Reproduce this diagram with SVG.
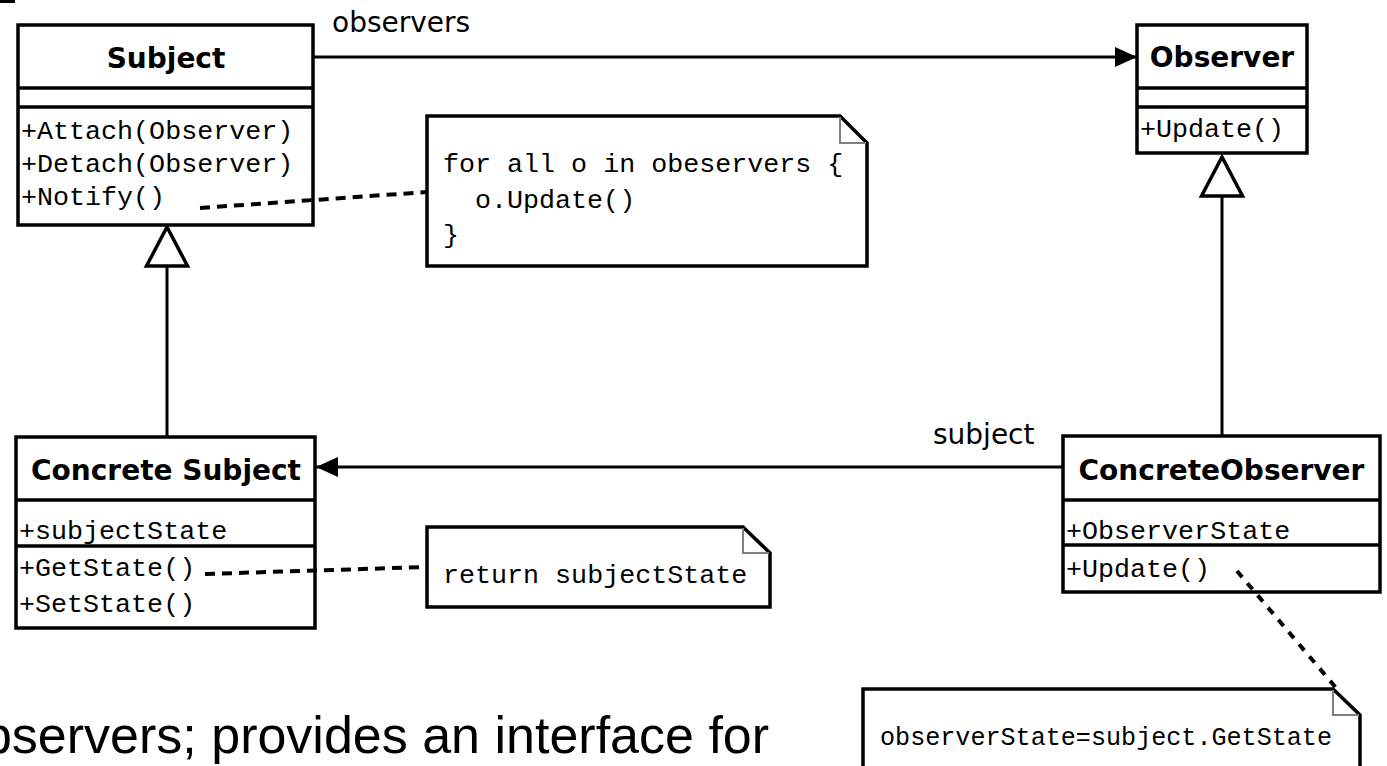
<svg xmlns="http://www.w3.org/2000/svg" width="1387" height="766" viewBox="0 0 1387 766">
<style>
.box{fill:#fff;stroke:#000;stroke-width:3.5}
.sep{stroke:#000;stroke-width:3.5}
.title{font-family:"DejaVu Sans",sans-serif;font-weight:bold;font-size:28px;text-anchor:middle;fill:#000}
.mono{font-family:"Liberation Mono",monospace;font-size:26.7px;fill:#000}
.lbl{font-family:"DejaVu Sans",sans-serif;font-size:28px;fill:#000}
.note{fill:#fff;stroke:#000;stroke-width:3.5}
.fold{fill:none;stroke:#808080;stroke-width:2}
.conn{stroke:#000;stroke-width:3;fill:none}
.dash{stroke:#000;stroke-width:4;fill:none;stroke-dasharray:10 7}
.body{font-family:"Liberation Sans",Arial,sans-serif;font-size:52px;fill:#000}
</style>
<defs>
<marker id="filled" markerUnits="userSpaceOnUse" markerWidth="24" markerHeight="22" refX="22" refY="10" orient="auto" overflow="visible">
<path d="M0,0 L22,10 L0,20 Z" fill="#000"/>
</marker>
<marker id="hollow" markerUnits="userSpaceOnUse" markerWidth="42" markerHeight="42" refX="39" refY="20.5" orient="auto" overflow="visible">
<path d="M0,0 L39,20.5 L0,41 Z" fill="#fff" stroke="#000" stroke-width="3.5"/>
</marker>
</defs>
<rect x="0" y="0" width="15" height="3" fill="#000"/>
<g id="subject">
<rect class="box" x="18" y="25" width="295" height="200"/>
<line class="sep" x1="18" y1="88" x2="313" y2="88"/>
<line class="sep" x1="18" y1="107" x2="313" y2="107"/>
<text class="title" x="166" y="68">Subject</text>
<text class="mono" x="21" y="139">+Attach(Observer)</text>
<text class="mono" x="21" y="172">+Detach(Observer)</text>
<text class="mono" x="21" y="205">+Notify()</text>
</g>
<g id="observer">
<rect class="box" x="1137" y="25" width="170" height="128"/>
<line class="sep" x1="1137" y1="88" x2="1307" y2="88"/>
<line class="sep" x1="1137" y1="107" x2="1307" y2="107"/>
<text class="title" x="1222" y="67">Observer</text>
<text class="mono" x="1140" y="137">+Update()</text>
</g>
<g id="concrete-subject">
<rect class="box" x="16" y="437" width="299" height="191"/>
<line class="sep" x1="16" y1="500" x2="315" y2="500"/>
<line class="sep" x1="16" y1="546" x2="315" y2="546"/>
<text class="title" x="166" y="480">Concrete Subject</text>
<text class="mono" x="19" y="539">+subjectState</text>
<text class="mono" x="19" y="576">+GetState()</text>
<text class="mono" x="19" y="612">+SetState()</text>
</g>
<g id="concrete-observer">
<rect class="box" x="1063" y="436" width="317" height="156"/>
<line class="sep" x1="1063" y1="500" x2="1380" y2="500"/>
<line class="sep" x1="1063" y1="545" x2="1380" y2="545"/>
<text class="title" x="1221.5" y="480">ConcreteObserver</text>
<text class="mono" x="1066" y="539">+ObserverState</text>
<text class="mono" x="1066" y="577">+Update()</text>
</g>
<g id="note-notify">
<path class="note" d="M427,116 H840 L867,143 V266 H427 Z"/>
<path class="fold" d="M840,117 V143 H866"/>
<text class="mono" x="443" y="172">for all o in obeservers {</text>
<text class="mono" x="475" y="208">o.Update()</text>
<text class="mono" x="443" y="243">}</text>
</g>
<g id="note-getstate">
<path class="note" d="M427,527 H743 L770,553 V607 H427 Z"/>
<path class="fold" d="M743,528 V553 H769"/>
<text class="mono" x="443" y="583">return subjectState</text>
</g>
<g id="note-update">
<path class="note" d="M863,689 H1333 L1360,715 V772 H863 Z"/>
<path class="fold" d="M1333,690 V715 H1359"/>
<text class="mono" x="880" y="745" textLength="452" lengthAdjust="spacingAndGlyphs">observerState=subject.GetState</text>
</g>
<g id="connectors">
<line class="conn" x1="313" y1="57" x2="1137" y2="57" marker-end="url(#filled)"/>
<line class="conn" x1="1063" y1="467" x2="316" y2="467" marker-end="url(#filled)"/>
<line class="conn" x1="167" y1="437" x2="167" y2="227" marker-end="url(#hollow)"/>
<line class="conn" x1="1222" y1="436" x2="1222" y2="157" marker-end="url(#hollow)"/>
<line class="dash" x1="200" y1="208" x2="427" y2="192"/>
<line class="dash" x1="205" y1="574" x2="427" y2="567"/>
<line class="dash" x1="1237" y1="571" x2="1337" y2="689" style="stroke-dasharray:8 8"/>
<text class="lbl" x="332" y="32">observers</text>
<text class="lbl" x="933" y="444">subject</text>
</g>
<text class="body" x="-46" y="753">observers; provides an interface for</text>
</svg>
